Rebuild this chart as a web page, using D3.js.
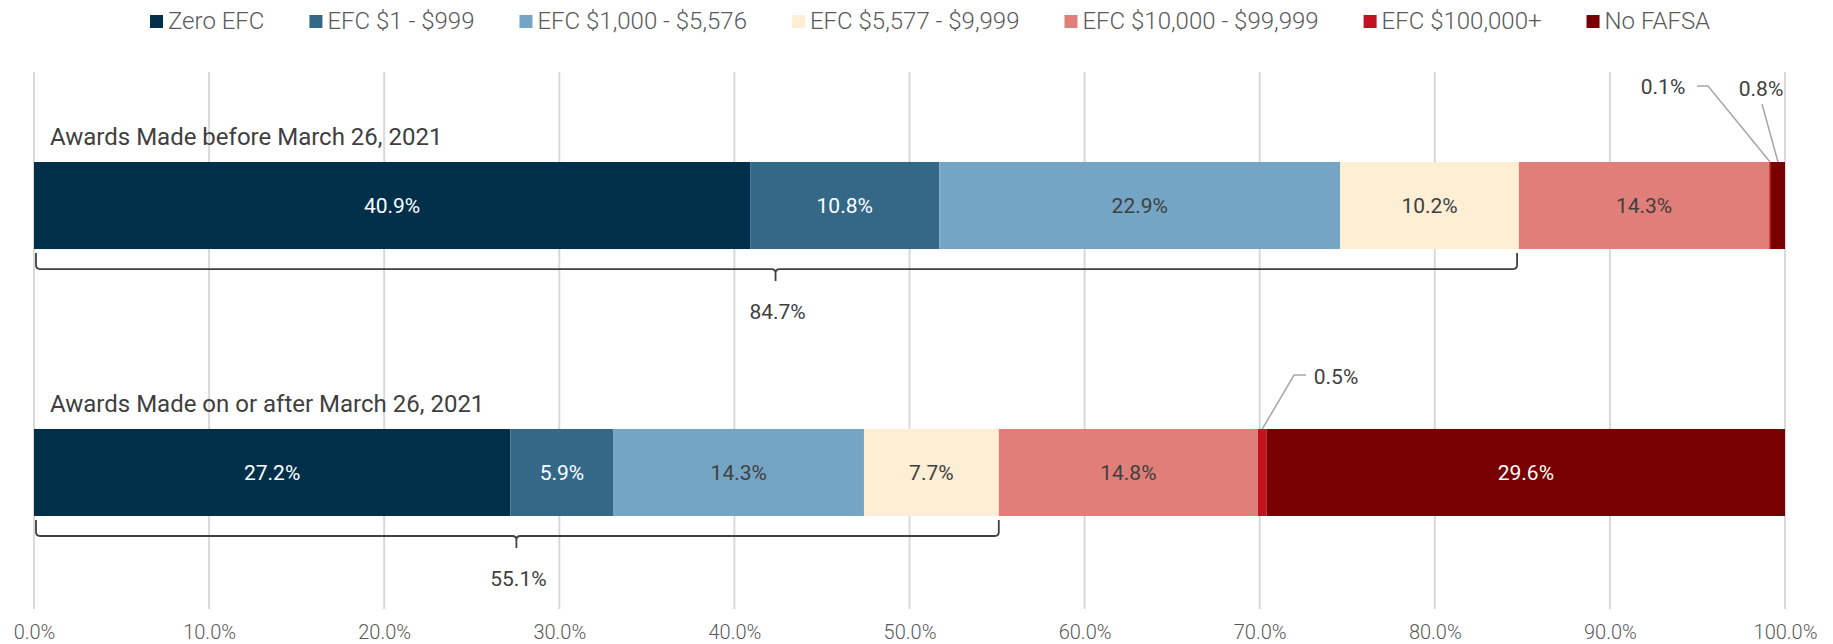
<!DOCTYPE html>
<html>
<head>
<meta charset="utf-8">
<script src="https://cdn.jsdelivr.net/npm/d3@7"></script>
<style>
  body { margin: 0; background: #fff; }
  svg { display: block; font-family: Roboto, "Noto Sans", sans-serif; }
</style>
</head>
<body>
<svg id="chart" width="1833" height="644"></svg>
<script>
// categories and values
var groups = ["Awards Made before March 26, 2021", "Awards Made on or after March 26, 2021"];
var categories = ["Zero EFC", "EFC $1 - $999", "EFC $1,000 - $5,576", "EFC $5,577 - $9,999",
                  "EFC $10,000 - $99,999", "EFC $100,000+", "No FAFSA"];
var beforeValues = [40.9, 10.8, 22.9, 10.2, 14.3, 0.1, 0.8];
var afterValues = [27.2, 5.9, 14.3, 7.7, 14.8, 0.5, 29.6];
var bracketTotals = [84.7, 55.1];   // share with EFC under $10,000
var tickValues = [0, 10, 20, 30, 40, 50, 60, 70, 80, 90, 100];

var colors = ["#002f4a", "#346887", "#74a5c4", "#fdeed4", "#e07f7a", "#c1121f", "#780000"];
var whiteText = [true, true, false, false, false, true, true];

var svg = d3.select("#chart");

var rows = [beforeValues, afterValues].map(function(vals, i) {
  var r = { group: groups[i] };
  categories.forEach(function(c, j) { r[c] = vals[j]; });
  return r;
});
var series = d3.stack().keys(categories)(rows);

var x = d3.scaleLinear().domain([0, 100]).range([34, 1785]);
var y = d3.scaleBand().domain(groups).range([162, 516]).paddingInner(0.674).paddingOuter(0);

// gridlines
svg.append("g").selectAll("line")
  .data(tickValues)
  .enter().append("line")
  .attr("x1", function(d) { return x(d); })
  .attr("x2", function(d) { return x(d); })
  .attr("y1", 72)
  .attr("y2", 609)
  .attr("stroke", "#d9d9d9")
  .attr("stroke-width", 2);

// axis labels
var xAxis = d3.axisBottom(x).tickValues(tickValues)
  .tickFormat(function(d) { return d.toFixed(1) + "%"; })
  .tickSize(0).tickPadding(0);
var axisG = svg.append("g")
  .attr("transform", "translate(0,632)")
  .call(xAxis);
axisG.select(".domain").remove();
axisG.selectAll("text")
  .attr("font-family", "Roboto")
  .attr("font-size", 20)
  .attr("font-weight", 300)
  .attr("fill", "#595959")
  .attr("dy", "0.35em");

// bars
var layer = svg.append("g").selectAll("g")
  .data(series)
  .enter().append("g")
  .attr("fill", function(d, i) { return colors[i]; });

layer.selectAll("rect")
  .data(function(d) { return d; })
  .enter().append("rect")
  .attr("x", function(d) { return x(d[0]); })
  .attr("width", function(d) { return x(d[1]) - x(d[0]); })
  .attr("y", function(d) { return y(d.data.group); })
  .attr("height", y.bandwidth());

// in-bar labels
layer.each(function(s, i) {
  d3.select(this).selectAll("text")
    .data(s.filter(function(d) { return d[1] - d[0] >= 3; }))
    .enter().append("text")
    .attr("x", function(d) { return (x(d[0]) + x(d[1])) / 2; })
    .attr("y", function(d) { return y(d.data.group) + y.bandwidth() / 2; })
    .attr("dy", "0.35em")
    .attr("text-anchor", "middle")
    .attr("font-size", 21)
    .attr("fill", whiteText[i] ? "#ffffff" : "#404040")
    .text(function(d) { return (d[1] - d[0]).toFixed(1) + "%"; });
});

// leader labels for the thin slices
var callouts = [
  { g: 0, c: 5, lx: 1663, ly: 87, pts: [[1697, 86], [1708, 86]] },
  { g: 0, c: 6, lx: 1761, ly: 89, pts: [[1762, 104]] },
  { g: 1, c: 5, lx: 1336, ly: 377, pts: [[1306, 375], [1294, 375]] }
];
callouts.forEach(function(co) {
  var seg = series[co.c][co.g];
  var ax = (x(seg[0]) + x(seg[1])) / 2;
  var ay = y(groups[co.g]);
  var pts = co.pts.concat([[ax, ay]]);
  svg.append("path")
    .attr("d", d3.line()(pts))
    .attr("fill", "none")
    .attr("stroke", "#a6a6a6")
    .attr("stroke-width", 1.5);
  svg.append("text")
    .attr("x", co.lx)
    .attr("y", co.ly)
    .attr("dy", "0.35em")
    .attr("text-anchor", "middle")
    .attr("font-size", 21)
    .attr("fill", "#404040")
    .text((seg[1] - seg[0]).toFixed(1) + "%");
});

// group titles
svg.append("g").selectAll("text")
  .data(groups)
  .enter().append("text")
  .attr("x", 50)
  .attr("y", function(d) { return y(d) - 25; })
  .attr("dy", "0.35em")
  .attr("font-size", 24)
  .attr("fill", "#404040")
  .text(function(d) { return d; });

// brackets
groups.forEach(function(g, i) {
  var x0 = x(0) + 2, x1 = x(bracketTotals[i]);
  var top = y(g) + y.bandwidth() + 4;
  var by = top + 16, r = 4, mid = (x(0) + x1) / 2;
  var p = d3.path();
  p.moveTo(x0, top);
  p.lineTo(x0, by - r);
  p.quadraticCurveTo(x0, by, x0 + r, by);
  p.lineTo(mid - r, by);
  p.quadraticCurveTo(mid, by, mid, by + r);
  p.lineTo(mid, by + 12);
  p.moveTo(mid, by + r);
  p.quadraticCurveTo(mid, by, mid + r, by);
  p.lineTo(x1 - r, by);
  p.quadraticCurveTo(x1, by, x1, by - r);
  p.lineTo(x1, top);
  svg.append("path")
    .attr("d", p.toString())
    .attr("fill", "none")
    .attr("stroke", "#404040")
    .attr("stroke-width", 1.8);
  svg.append("text")
    .attr("x", mid + 2)
    .attr("y", by + 43)
    .attr("dy", "0.35em")
    .attr("text-anchor", "middle")
    .attr("font-size", 21)
    .attr("fill", "#404040")
    .text(bracketTotals[i].toFixed(1) + "%");
});

// legend
var legend = svg.append("g").attr("transform", "translate(150,21)");
var lx = 0;
categories.forEach(function(c, i) {
  var item = legend.append("g").attr("transform", "translate(" + lx + ",0)");
  item.append("rect")
    .attr("x", 0).attr("y", -6)
    .attr("width", 13).attr("height", 13)
    .attr("fill", colors[i]);
  var t = item.append("text")
    .attr("x", 18)
    .attr("dy", "0.35em")
    .attr("font-size", 24)
    .attr("font-weight", 300)
    .attr("fill", "#595959")
    .text(c);
  lx += 18 + t.node().getComputedTextLength() + 45;
});
</script>
</body>
</html>
